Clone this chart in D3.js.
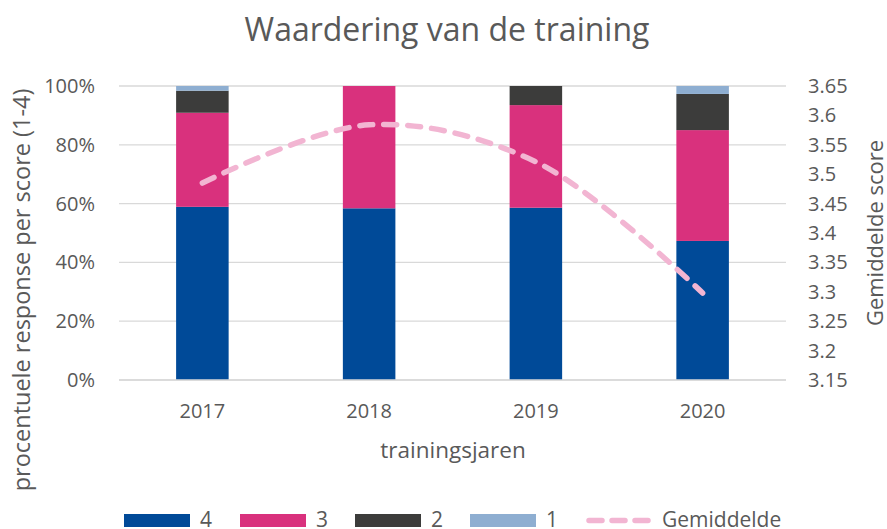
<!DOCTYPE html>
<html>
<head>
<meta charset="utf-8">
<script src="https://cdn.jsdelivr.net/npm/d3@7"></script>
<style>
  body { margin: 0; background: #fff; }
  text { font-family: "Open Sans", sans-serif; fill: #595959; }
</style>
</head>
<body>
<div id="chart"></div>
<script>
// Data
const years = ["2017", "2018", "2019", "2020"];
const score4 = [0.589, 0.584, 0.586, 0.473];
const score3 = [0.320, 0.416, 0.349, 0.377];
const score2 = [0.075, 0.000, 0.065, 0.123];
const score1 = [0.016, 0.000, 0.000, 0.027];
const gemiddelde = [3.485, 3.584, 3.521, 3.298];
const leftTicks = [0, 0.2, 0.4, 0.6, 0.8, 1.0];
const rightTicks = [3.15, 3.2, 3.25, 3.3, 3.35, 3.4, 3.45, 3.5, 3.55, 3.6, 3.65];

const svgWidth = 887;
const svgHeight = 529;
const margin = { top: 86, right: 101, bottom: 149, left: 119 };
const width = svgWidth - margin.left - margin.right;
const height = svgHeight - margin.top - margin.bottom;

const colors = { "4": "#004A98", "3": "#D9317D", "2": "#3C3C3B", "1": "#8EAED1" };
const lineColor = "#F2B5D2";

const svg = d3.select("#chart").append("svg")
  .attr("width", svgWidth)
  .attr("height", svgHeight);

const chartGroup = svg.append("g")
  .attr("transform", `translate(${margin.left}, ${margin.top})`);

// scales
const x = d3.scaleBand().domain(years).range([0, width]).paddingInner(0.685).paddingOuter(0.3425);
const y = d3.scaleLinear().domain([0, 1]).range([height, 0]);
const y2 = d3.scaleLinear().domain([3.15, 3.65]).range([height, 0]);

// gridlines
chartGroup.append("g").selectAll("line")
  .data(leftTicks)
  .join("line")
  .attr("x1", 0).attr("x2", width)
  .attr("y1", d => y(d)).attr("y2", d => y(d))
  .attr("stroke", "#D9D9D9")
  .attr("stroke-width", 1.3);

// stacked bars
const rows = years.map((yr, i) => ({ year: yr, "4": score4[i], "3": score3[i], "2": score2[i], "1": score1[i] }));
const stack = d3.stack().keys(["4", "3", "2", "1"])(rows);

chartGroup.append("g").selectAll("g")
  .data(stack)
  .join("g")
  .attr("fill", d => colors[d.key])
  .selectAll("rect")
  .data(d => d)
  .join("rect")
  .attr("x", d => x(d.data.year))
  .attr("width", x.bandwidth())
  .attr("y", d => y(d[1]))
  .attr("height", d => y(d[0]) - y(d[1]));

// baseline
chartGroup.append("line")
  .attr("x1", 0).attr("x2", width)
  .attr("y1", height).attr("y2", height)
  .attr("stroke", "#D9D9D9")
  .attr("stroke-width", 1.3);

// average line (smoothed, dashed)
const line = d3.line()
  .x((d, i) => x(years[i]) + x.bandwidth() / 2)
  .y(d => y2(d))
  .curve(d3.curveCatmullRom.alpha(0.5));

chartGroup.append("path")
  .datum(gemiddelde)
  .attr("d", line)
  .attr("fill", "none")
  .attr("stroke", lineColor)
  .attr("stroke-width", 5.5)
  .attr("stroke-linecap", "round")
  .attr("stroke-dasharray", "13 11");

// axes
const leftAxis = d3.axisLeft(y).tickValues(leftTicks).tickFormat(d3.format(".0%")).tickSize(0).tickPadding(24);
const rightAxis = d3.axisRight(y2).tickValues(rightTicks).tickFormat(d => String(+d.toFixed(2))).tickSize(0).tickPadding(22);
const bottomAxis = d3.axisBottom(x).tickSize(0).tickPadding(24);

function styleAxis(g) {
  g.select(".domain").remove();
  g.selectAll("text").attr("font-size", 20).attr("fill", "#595959")
    .style("font-family", "'Open Sans', sans-serif");
}

chartGroup.append("g").call(leftAxis).call(styleAxis);
chartGroup.append("g").attr("transform", `translate(${width}, 0)`).call(rightAxis).call(styleAxis);
chartGroup.append("g").attr("transform", `translate(0, ${height})`).call(bottomAxis).call(styleAxis);

// titles
svg.append("text")
  .attr("x", 447).attr("y", 41)
  .attr("text-anchor", "middle")
  .attr("font-size", 32)
  .text("Waardering van de training");

svg.append("text")
  .attr("x", 453).attr("y", 458)
  .attr("text-anchor", "middle")
  .attr("font-size", 22.5)
  .text("trainingsjaren");

svg.append("text")
  .attr("transform", "translate(30, 290) rotate(-90)")
  .attr("text-anchor", "middle")
  .attr("font-size", 23.5)
  .text("procentuele response per score (1-4)");

svg.append("text")
  .attr("transform", `translate(883, ${margin.top + height / 2}) rotate(-90)`)
  .attr("text-anchor", "middle")
  .attr("font-size", 22)
  .text("Gemiddelde score");

// legend
const legendItems = [
  { label: "4", x: 124, type: "rect", color: colors["4"] },
  { label: "3", x: 240, type: "rect", color: colors["3"] },
  { label: "2", x: 355, type: "rect", color: colors["2"] },
  { label: "1", x: 470, type: "rect", color: colors["1"] },
  { label: "Gemiddelde", x: 586, type: "line", color: lineColor }
];

const legend = svg.append("g");
legendItems.forEach(item => {
  if (item.type === "rect") {
    legend.append("rect")
      .attr("x", item.x).attr("y", 514)
      .attr("width", 66).attr("height", 13)
      .attr("fill", item.color);
  } else {
    legend.append("line")
      .attr("x1", item.x + 3).attr("x2", item.x + 63)
      .attr("y1", 520.5).attr("y2", 520.5)
      .attr("stroke", item.color)
      .attr("stroke-width", 5.5)
      .attr("stroke-linecap", "round")
      .attr("stroke-dasharray", "13 10");
  }
  legend.append("text")
    .attr("x", item.x + 76).attr("y", 527)
    .attr("font-size", 21)
    .text(item.label);
});
</script>
</body>
</html>
